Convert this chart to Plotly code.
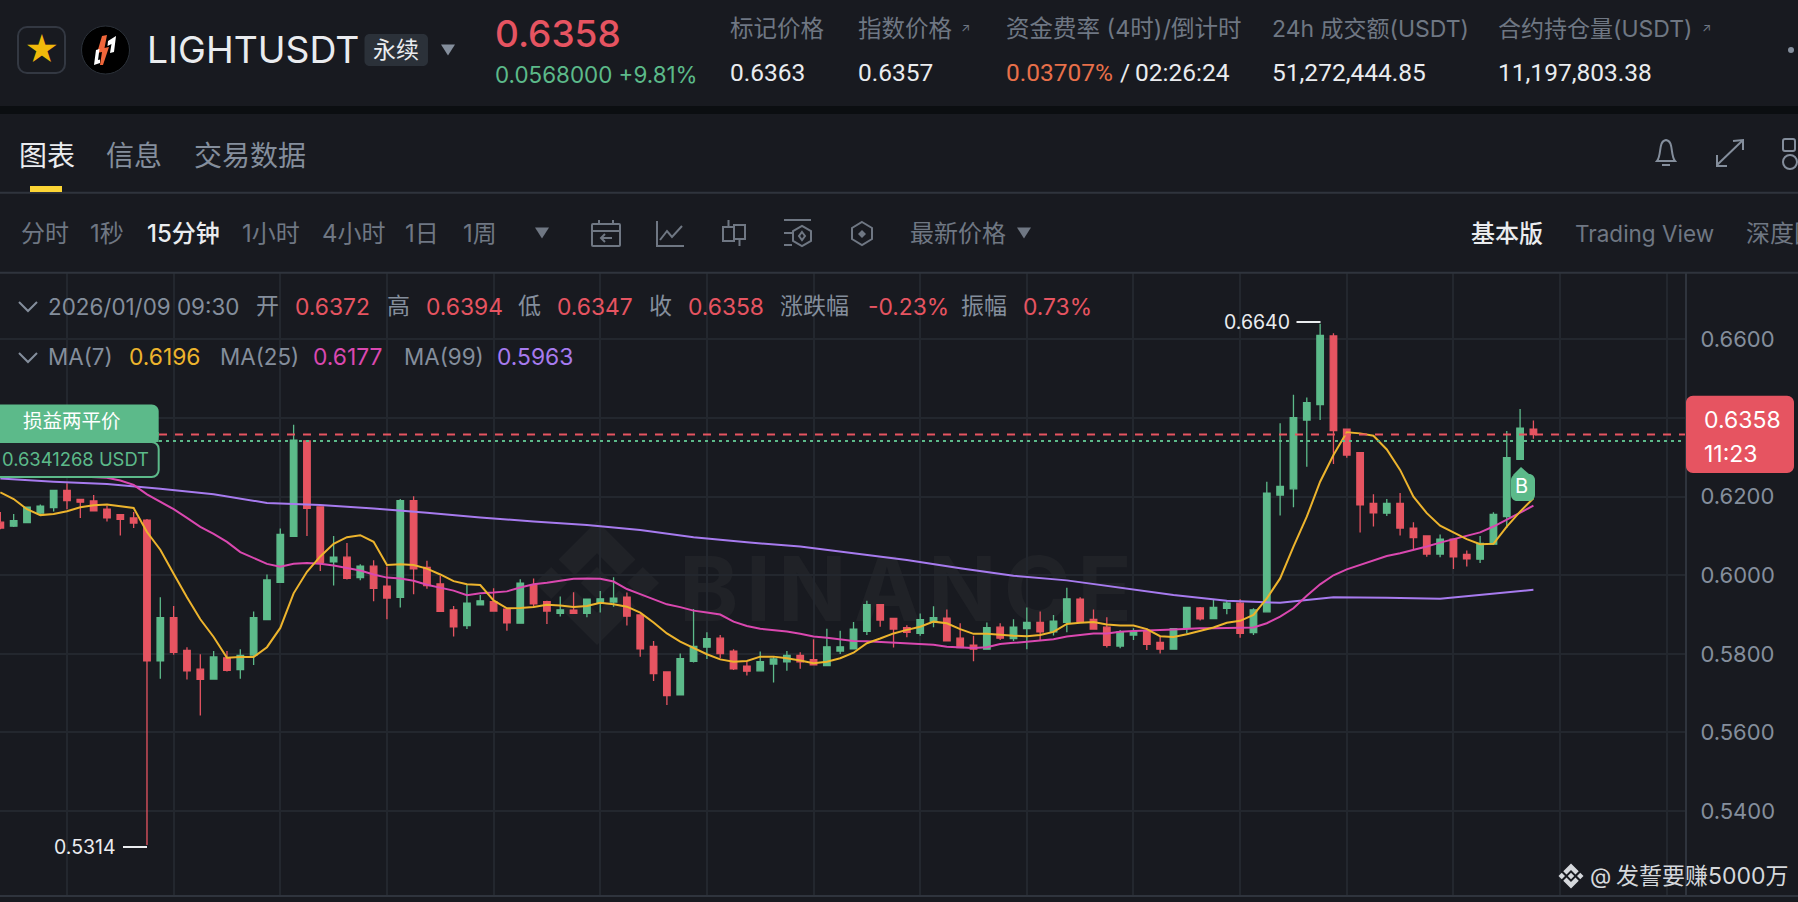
import pandas as pd
import plotly.graph_objects as go

W, H = 1798, 902

BG = '#181A20'
GRID = '#23272E'
LINE = '#2F343D'
GRAY = '#848E9C'
DIM = '#6F7783'
WHITE = '#EAECEF'
RED = '#E65461'
GREEN = '#5CBA8A'
YELLOW = '#EDB42D'
PINK = '#DA48B0'
PURPLE = '#A77BEF'

# 15 minute candles, the last one is 2026/01/09 09:30
dates = pd.date_range(end='2026-01-09 09:30', periods=116, freq='15min')

opens = [.6135, .6125, .6134, .6158, .6172,
         .6216, .6193, .6189, .6168, .6154, .6146, .6140, .5782, .5892, .5809,
         .5761, .5736, .5790, .5760, .5797, .5887, .5982, .6099, .6342, .6174,
         .6034, .6046, .5994, .6023, .5972, .5944, .6190, .6020, .5978, .5912,
         .5872, .5925, .5933, .5914, .5878, .5975, .5933, .5903, .5911, .5903,
         .5929, .5932, .5944, .5899, .5819, .5754, .5696, .5781, .5817, .5840,
         .5807, .5769, .5757, .5774, .5780, .5796, .5785, .5770, .5807, .5813,
         .5857, .5925, .5890, .5867, .5852, .5880, .5891, .5840, .5822, .5812,
         .5868, .5839, .5864, .5880, .5856, .5880, .5939, .5888, .5868, .5820,
         .5848, .5859, .5829, .5812, .5865, .5917, .5890, .5916, .5929, .5854,
         .5907, .6204, .6220, .6395, .6434, .6609, .6372, .6312, .6183, .6158,
         .6183, .6120, .6100, .6054, .6092, .6053, .6041, .6079, .6149, .6295,
         .6372]
highs = [.6161, .6156, .6173, .6180, .6216,
         .6234, .6193, .6204, .6176, .6154, .6161, .6143, .5944, .5922, .5817,
         .5799, .5807, .5807, .5812, .5908, .6002, .6119, .6383, .6344, .6174,
         .6100, .6082, .6028, .6038, .6022, .6194, .6201, .6037, .5999, .5922,
         .5975, .5950, .5967, .5916, .5990, .5992, .5935, .5946, .5957, .5939,
         .5960, .5995, .5956, .5899, .5833, .5754, .5801, .5914, .5855, .5848,
         .5812, .5780, .5806, .5793, .5807, .5804, .5837, .5864, .5859, .5881,
         .5935, .5925, .5890, .5873, .5903, .5921, .5913, .5878, .5846, .5880,
         .5878, .5888, .5918, .5908, .5899, .5968, .5944, .5913, .5893, .5861,
         .5865, .5865, .5844, .5864, .5918, .5919, .5937, .5935, .5939, .5916,
         .6238, .6387, .6459, .6452, .6640, .6616, .6372, .6312, .6206, .6194,
         .6209, .6135, .6100, .6104, .6092, .6063, .6100, .6160, .6367, .6423,
         .6394]
lows = [.6117, .6123, .6134, .6154, .6162,
        .6168, .6146, .6164, .6137, .6101, .6120, .5314, .5737, .5798, .5735,
        .5643, .5736, .5755, .5737, .5772, .5887, .5982, .6099, .6100, .6011,
        .5974, .5989, .5987, .5934, .5888, .5918, .5952, .5966, .5908, .5844,
        .5863, .5925, .5908, .5859, .5878, .5920, .5876, .5895, .5902, .5893,
        .5905, .5920, .5872, .5793, .5731, .5670, .5696, .5778, .5787, .5789,
        .5759, .5745, .5757, .5727, .5757, .5762, .5772, .5770, .5800, .5813,
        .5848, .5869, .5816, .5842, .5846, .5868, .5833, .5814, .5781, .5812,
        .5835, .5833, .5812, .5835, .5847, .5855, .5881, .5862, .5816, .5814,
        .5835, .5810, .5801, .5812, .5852, .5885, .5890, .5901, .5841, .5848,
        .5907, .6152, .6173, .6276, .6395, .6283, .6299, .6109, .6124, .6151,
        .6101, .6066, .6047, .6046, .6016, .6022, .6031, .6077, .6120, .6293,
        .6347]
closes = [.6120, .6139, .6173, .6176, .6216,
          .6190, .6186, .6164, .6146, .6142, .6133, .5782, .5892, .5804, .5757,
          .5735, .5792, .5758, .5796, .5892, .5988, .6104, .6344, .6170, .6033,
          .6046, .5992, .6023, .5967, .5942, .6190, .6016, .5974, .5908, .5869,
          .5929, .5935, .5909, .5879, .5980, .5927, .5909, .5912, .5903, .5939,
          .5940, .5942, .5896, .5813, .5750, .5694, .5788, .5819, .5839, .5801,
          .5762, .5756, .5780, .5787, .5796, .5780, .5772, .5818, .5818, .5863,
          .5925, .5886, .5863, .5855, .5887, .5892, .5833, .5816, .5812, .5867,
          .5840, .5868, .5880, .5856, .5883, .5940, .5883, .5863, .5822, .5856,
          .5856, .5824, .5812, .5864, .5918, .5889, .5918, .5929, .5852, .5912,
          .6209, .6226, .6401, .6439, .6610, .6368, .6306, .6179, .6159, .6183,
          .6120, .6096, .6054, .6092, .6047, .6042, .6081, .6155, .6299, .6374,
          .6358]

ma7 = [.6211, .6194, .6168, .6153, .6156,
       .6163, .6173, .6178, .6180, .6176, .6171, .6110, .6065, .6004, .5944,
       .5888, .5843, .5790, .5792, .5792, .5817, .5866, .5954, .6009, .6048,
       .6080, .6097, .6102, .6085, .6026, .6028, .6026, .6017, .6002, .5985,
       .5977, .5975, .5936, .5916, .5917, .5919, .5925, .5923, .5919, .5922,
       .5930, .5926, .5920, .5905, .5880, .5852, .5831, .5814, .5799, .5786,
       .5780, .5782, .5793, .5793, .5789, .5783, .5776, .5780, .5789, .5803,
       .5827, .5839, .5852, .5861, .5869, .5882, .5878, .5863, .5851, .5851,
       .5848, .5846, .5845, .5848, .5856, .5876, .5879, .5881, .5875, .5872,
       .5872, .5863, .5845, .5843, .5850, .5858, .5867, .5879, .5884, .5899,
       .5941, .5992, .6073, .6149, .6238, .6306, .6364, .6361, .6355, .6320,
       .6268, .6200, .6158, .6126, .6109, .6092, .6079, .6080, .6124, .6162,
       .6196]
ma25 = [.6252, .6253, .6253, .6253, .6253,
        .6252, .6251, .6250, .6248, .6241, .6230, .6206, .6188, .6168, .6146,
        .6123, .6105, .6085, .6059, .6045, .6029, .6022, .6029, .6031, .6029,
        .6025, .6019, .6012, .6002, .5994, .5992, .5986, .5976, .5969, .5961,
        .5949, .5954, .5956, .5959, .5969, .5977, .5981, .5986, .5991, .5992,
        .5991, .5984, .5965, .5952, .5939, .5926, .5919, .5910, .5905, .5900,
        .5882, .5871, .5864, .5860, .5857, .5851, .5844, .5841, .5837, .5833,
        .5832, .5830, .5829, .5827, .5825, .5823, .5818, .5816, .5815, .5817,
        .5825, .5828, .5831, .5833, .5837, .5844, .5848, .5852, .5852, .5856,
        .5858, .5860, .5861, .5862, .5864, .5865, .5865, .5866, .5867, .5867,
        .5878, .5895, .5916, .5948, .5977, .6000, .6015, .6026, .6037, .6049,
        .6056, .6064, .6073, .6083, .6092, .6101, .6109, .6124, .6141, .6158,
        .6177]
# MA(99) is smooth, read at every 4th candle plus the last one
ma99_pos = list(range(0, 116, 4)) + [115]
ma99 = [.6246, .6238, .6232, .6220, .6206, .6184, .6179, .6170, .6159, .6147,
        .6137, .6128, .6115, .6097, .6084, .6073, .6056, .6039, .6018, .5999,
        .5987, .5968, .5950, .5935, .5930, .5944, .5943, .5940, .5954, .5963]

price_ticks = [0.54, 0.56, 0.58, 0.60, 0.62, 0.64, 0.66]
# 0.64 only has its grid line, the price box sits on its label
price_labels = ['0.5400', '0.5600', '0.5800', '0.6000', '0.6200', '', '0.6600']
last_price = 0.6358
breakeven = 0.6341268

stats_labels = ['标记价格', '指数价格', '资金费率 (4时)/倒计时', '24h 成交额(USDT)', '合约持仓量(USDT)']
stats_values = ['0.6363', '0.6357', '', '51,272,444.85', '11,197,803.38']
stats_x = [730, 858, 1006, 1272, 1498]
stats_size = [23.5, 23.5, 23.5, 23, 23]

intervals = ['分时', '1秒', '15分钟', '1小时', '4小时', '1日', '1周']
intervals_x = [21, 90, 147, 242, 322, 405, 463]

shapes = []
annotations = []


def pt(x, y):
    return '%.5f %.5f' % (x / W, 1 - y / H)


def poly(points, closed=False):
    s = 'M' + ' L'.join(pt(x, y) for x, y in points)
    return s + (' Z' if closed else '')


def add_path(d, color=None, fill=None, width=2, layer='above'):
    shapes.append(dict(type='path', path=d, xref='paper', yref='paper', layer=layer,
                       line=dict(color=color or 'rgba(0,0,0,0)', width=width),
                       fillcolor=fill or 'rgba(0,0,0,0)'))


def rrect(x0, y0, x1, y1, r):
    k = r * 0.45
    return ('M' + pt(x0 + r, y0) + ' L' + pt(x1 - r, y0)
            + ' C' + pt(x1 - k, y0) + ' ' + pt(x1, y0 + k) + ' ' + pt(x1, y0 + r)
            + ' L' + pt(x1, y1 - r)
            + ' C' + pt(x1, y1 - k) + ' ' + pt(x1 - k, y1) + ' ' + pt(x1 - r, y1)
            + ' L' + pt(x0 + r, y1)
            + ' C' + pt(x0 + k, y1) + ' ' + pt(x0, y1 - k) + ' ' + pt(x0, y1 - r)
            + ' L' + pt(x0, y0 + r)
            + ' C' + pt(x0, y0 + k) + ' ' + pt(x0 + k, y0) + ' ' + pt(x0 + r, y0) + ' Z')


def text(x, y, s, size, color, anchor='left', weight=None, family='Inter'):
    font = dict(size=size, color=color, family=family + ', Noto Sans CJK SC, sans-serif')
    if weight:
        font['weight'] = weight
    annotations.append(dict(x=x / W, y=1 - y / H, xref='paper', yref='paper', text=s,
                            showarrow=False, xanchor=anchor, yanchor='middle',
                            font=font, borderpad=0, borderwidth=0))


def tri(x, y, size, color):
    add_path(poly([(x - size, y - size * 0.8), (x + size, y - size * 0.8), (x, y + size * 0.8)], True), fill=color, width=0)


def binance_logo(cx, cy, r, fill, layer='above'):
    # centre square, 2 side squares, top and bottom chevrons
    a = r * 0.26
    for dx, dy in [(0, 0), (-r * 0.74, 0), (r * 0.74, 0)]:
        add_path(poly([(cx + dx - a, cy + dy), (cx + dx, cy + dy - a), (cx + dx + a, cy + dy), (cx + dx, cy + dy + a)], True),
                 fill=fill, width=0, layer=layer)
    for s in [-1, 1]:
        add_path(poly([(cx, cy + s * r), (cx + r * 0.62, cy + s * r * 0.38), (cx + r * 0.36, cy + s * r * 0.12),
                       (cx, cy + s * r * 0.48), (cx - r * 0.36, cy + s * r * 0.12), (cx - r * 0.62, cy + s * r * 0.38)], True),
                 fill=fill, width=0, layer=layer)


# ---- chart
fig = go.Figure()
fig.add_trace(go.Candlestick(x=dates, open=opens, high=highs, low=lows, close=closes,
                             increasing=dict(line=dict(color=GREEN, width=1.3), fillcolor=GREEN),
                             decreasing=dict(line=dict(color=RED, width=1.3), fillcolor=RED),
                             showlegend=False))
fig.add_trace(go.Scatter(x=dates[ma99_pos], y=ma99, mode='lines', line=dict(color=PURPLE, width=2), showlegend=False))
fig.add_trace(go.Scatter(x=dates, y=ma25, mode='lines', line=dict(color=PINK, width=2), showlegend=False))
fig.add_trace(go.Scatter(x=dates, y=ma7, mode='lines', line=dict(color=YELLOW, width=2), showlegend=False))

# ---- bars and dividers of the page
add_path(poly([(0, 106), (W, 106), (W, 114), (0, 114)], True), fill='#0B0E11', width=0)
for y in [192.7, 272.7, 896]:
    add_path(poly([(0, y), (W, y)]), color=LINE, width=2)
add_path(poly([(30, 186), (62, 186), (62, 192), (30, 192)], True), fill='#FCD535', width=0)

# watermark under the candles
binance_logo(597, 583, 62, '#202227', layer='below')
shapes.append(dict(type='rect', xref='paper', yref='paper', x0=676 / W, x1=1135 / W, y0=1 - 618 / H, y1=1 - 552 / H,
                   layer='below', line=dict(width=0), fillcolor='rgba(0,0,0,0)',
                   label=dict(text='B\u200aI\u200aN\u200aA\u200aN\u200aC\u200aE', textposition='middle center',
                              font=dict(size=90, color='#202227', family='Inter', weight=700))))

# ---- header
add_path(rrect(18, 27, 65, 73, 9), color='#333842', width=2)
text(41.5, 49, '★', 34, '#F0B90B', 'center')
shapes.append(dict(type='circle', xref='paper', yref='paper', x0=81.5 / W, x1=129.5 / W, y0=1 - 74 / H, y1=1 - 26 / H,
                   fillcolor='#000000', line=dict(color='#2B3139', width=1)))
add_path(poly([(102, 36), (107, 35), (104.5, 48), (109, 47), (103, 65), (100, 65), (102, 52), (97, 53)], True), fill='#F0663A', width=0)
add_path(poly([(96, 50), (99.5, 49), (98, 60), (100, 59.5), (100, 63), (94, 65)], True), fill='#FFFFFF', width=0)
add_path(poly([(108, 41), (116, 36), (114, 52), (110, 53), (111.5, 44), (107.5, 46)], True), fill='#FFFFFF', width=0)
text(147, 50, 'LIGHTUSDT', 37.3, WHITE)
add_path(rrect(364.5, 34, 428, 66, 5), fill='#2B3139', width=0)
text(396, 50, '永续', 23, WHITE, 'center')
tri(448, 50, 7, GRAY)
text(495, 33, '0.6358', 37, RED, weight=500)
text(495, 74, '0.0568000 +9.81%', 22.4, GREEN)
for lab, val, x, size in zip(stats_labels, stats_values, stats_x, stats_size):
    text(x, 29, lab, size, DIM)
    if val:
        text(x, 72, val, 24.5, WHITE, family='Roboto')
text(1006, 72, '0.03707%', 24.5, '#E8704A', family='Roboto')
text(1120, 72, '/', 24.5, WHITE, family='Roboto')
text(1135, 72, '02:26:24', 24.5, WHITE, family='Roboto')
text(965, 28, '↗', 12, DIM, 'center')
text(1706, 28, '↗', 12, DIM, 'center')
shapes.append(dict(type='circle', xref='paper', yref='paper', x0=1788 / W, x1=1794 / W, y0=1 - 53 / H, y1=1 - 47 / H,
                   fillcolor=GRAY, line=dict(width=0)))

# ---- tabs
text(19, 156, '图表', 28, WHITE)
text(106, 156, '信息', 28, GRAY)
text(194, 156, '交易数据', 28, GRAY)
# bell
add_path('M' + pt(1657, 161) + ' C' + pt(1662, 155) + ' ' + pt(1658, 141) + ' ' + pt(1666, 140)
         + ' C' + pt(1674, 141) + ' ' + pt(1670, 155) + ' ' + pt(1675, 161) + ' Z', color=GRAY, width=2)
add_path(poly([(1662, 165), (1670, 165)]), color=GRAY, width=2)
# expand
add_path(poly([(1717, 165), (1742, 141)]), color=GRAY, width=2)
add_path(poly([(1733, 141), (1743, 140), (1743, 150)]), color=GRAY, width=2)
add_path(poly([(1717, 155), (1717, 166), (1727, 166)]), color=GRAY, width=2)
# layout icon cut by the page edge
add_path(rrect(1783, 139, 1795, 151, 2), color=GRAY, width=2)
shapes.append(dict(type='circle', xref='paper', yref='paper', x0=1783 / W, x1=1797 / W, y0=1 - 169 / H, y1=1 - 155 / H,
                   line=dict(color=GRAY, width=2)))

# ---- interval bar
for lab, x in zip(intervals, intervals_x):
    text(x, 233, lab, 24, WHITE if lab == '15分钟' else DIM, weight=500 if lab == '15分钟' else None)
tri(542, 233, 7, DIM)
# calendar
add_path(rrect(592, 224, 620, 246, 1), color=DIM, width=2)
add_path(poly([(592, 231), (620, 231)]), color=DIM, width=2)
add_path(poly([(599, 220), (599, 225)]), color=DIM, width=2)
add_path(poly([(613, 220), (613, 225)]), color=DIM, width=2)
add_path(poly([(612, 238), (601, 238)]), color=DIM, width=2)
add_path(poly([(605, 234), (601, 238), (605, 242)]), color=DIM, width=2)
# indicator
add_path(poly([(657, 221), (657, 246), (684, 246)]), color=DIM, width=2)
add_path(poly([(660, 240), (667, 231), (672, 237), (682, 226)]), color=DIM, width=2)
# candles
add_path(poly([(723, 227), (734, 227), (734, 241), (723, 241)], True), color=DIM, width=2)
add_path(poly([(734, 225), (745, 225), (745, 239), (734, 239)], True), color=DIM, width=2)
add_path(poly([(728.5, 220), (728.5, 227)]), color=DIM, width=2)
add_path(poly([(739.5, 239), (739.5, 246)]), color=DIM, width=2)
# settings row
add_path(poly([(784, 220), (811, 220)]), color=DIM, width=2)
add_path(poly([(784, 233), (792, 233)]), color=DIM, width=2)
add_path(poly([(784, 245), (792, 245)]), color=DIM, width=2)
add_path(poly([(802, 226), (811, 231), (811, 241), (802, 246), (793, 241), (793, 231)], True), color=DIM, width=2)
add_path(poly([(802, 232), (805, 236), (802, 240), (799, 236)], True), color=DIM, width=2)
# hexagon
add_path(poly([(862, 222), (872, 228), (872, 239), (862, 245), (852, 239), (852, 228)], True), color=DIM, width=2)
add_path(poly([(862, 230), (866, 234), (862, 238), (858, 234)], True), fill=DIM, width=0)
text(910, 233, '最新价格', 24, DIM)
tri(1024, 233, 7, DIM)
text(1471, 233, '基本版', 24, WHITE, weight=500)
text(1575, 233, 'Trading View', 22.5, DIM)
text(1746, 233, '深度图', 24, DIM)

# ---- info rows above the candles
add_path(poly([(19, 302), (28, 311), (37, 302)]), color=GRAY, width=2)
add_path(poly([(19, 353), (28, 362), (37, 353)]), color=GRAY, width=2)
text(48, 306, '2026/01/09 09:30', 22.4, GRAY)
for lab, x in [('开', 256), ('高', 387), ('低', 518), ('收', 649), ('涨跌幅', 780), ('振幅', 961)]:
    text(x, 306, lab, 23, GRAY)
for val, x in [('0.6372', 295), ('0.6394', 426), ('0.6347', 557), ('0.6358', 688), ('-0.23%', 868), ('0.73%', 1023)]:
    text(x, 306, val, 22.8, RED)
text(48, 357, 'MA(7)', 22.4, GRAY)
text(128.6, 357, '0.6196', 22.8, YELLOW)
text(220, 357, 'MA(25)', 22.4, GRAY)
text(313, 357, '0.6177', 22.8, PINK)
text(404, 357, 'MA(99)', 22.4, GRAY)
text(497, 357, '0.5963', 22.8, PURPLE)

# ---- price lines, tied to the y axis
shapes.append(dict(type='line', xref='paper', yref='y', x0=159 / W, x1=1685 / W, y0=last_price, y1=last_price,
                   line=dict(color=RED, width=2, dash='8px,8px')))
shapes.append(dict(type='line', xref='paper', yref='y', x0=159 / W, x1=1685 / W, y0=breakeven, y1=breakeven,
                   line=dict(color=GREEN, width=2, dash='3px,4px')))

# break even label
add_path(rrect(-12, 442, 158.7, 477, 7), color=GREEN, fill='#1E2329', width=2)
add_path(rrect(-12, 404.6, 158.7, 442, 7), fill=GREEN, width=0)
add_path(poly([(-12, 432), (158.7, 432), (158.7, 442), (-12, 442)], True), fill=GREEN, width=0)
text(72, 421, '损益两平价', 19.5, '#FFFFFF', 'center')
text(149, 459, '0.6341268 USDT', 18.4, GREEN, 'right')

# price box on the axis
add_path(rrect(1686, 395.7, 1794, 473, 7), fill=RED, width=0)
text(1704, 420, '0.6358', 23, '#FFFFFF')
text(1704, 454, '11:23', 23, '#FFFFFF')

# buy marker
add_path(rrect(1511, 474, 1535, 501, 6), fill=GREEN, width=0)
add_path(poly([(1513, 475), (1521, 467), (1529, 474)], True), fill=GREEN, width=0)
text(1521, 486, 'B', 20, '#FFFFFF', 'center')

# high and low notes
text(1290, 322, '0.6640', 19.5, WHITE, 'right')
add_path(poly([(1296.5, 322), (1320.5, 322)]), color=WHITE, width=2)
text(116, 847, '0.5314', 19.5, WHITE, 'right')
add_path(poly([(123, 847), (147, 847)]), color=WHITE, width=2)

# author mark
binance_logo(1571, 876, 12.5, '#D5D8DC')
text(1590, 876, '@', 22, '#D5D8DC')
text(1616, 876, '发誓要赚5000万', 23, '#D5D8DC')

# one candle is 13.33px wide, the left edge falls just before dates[0]
t_left = dates[0] - pd.Timedelta(minutes=0.38)
t_right = dates[0] + pd.Timedelta(minutes=15 * 126.37)
fig.update_layout(
    width=W, height=H,
    margin=dict(l=0, r=0, t=0, b=0),
    paper_bgcolor=BG, plot_bgcolor=BG,
    showlegend=False,
    shapes=shapes,
    annotations=annotations,
    xaxis=dict(domain=[0, 1685 / W], range=[t_left, t_right], type='date', rangeslider=dict(visible=False),
               tick0='2026-01-08 00:00', dtick=7200000, showticklabels=False, showgrid=True,
               gridcolor=GRID, gridwidth=2, zeroline=False, showline=False, ticks=''),
    yaxis=dict(domain=[1 - 896 / H, 1 - 273 / H], range=[0.5184, 0.6769], side='right', tickvals=price_ticks,
               ticktext=price_labels, showgrid=True, gridcolor=GRID, gridwidth=2,
               zeroline=False, showline=True, linecolor=LINE, linewidth=2, ticks='',
               ticklabelstandoff=9,
               tickfont=dict(size=22, color=GRAY, family='Inter')),
)

fig.write_html('out.html', config=dict(displayModeBar=False),
               post_script="document.body.style.margin='0';document.body.style.background='%s';" % BG)
